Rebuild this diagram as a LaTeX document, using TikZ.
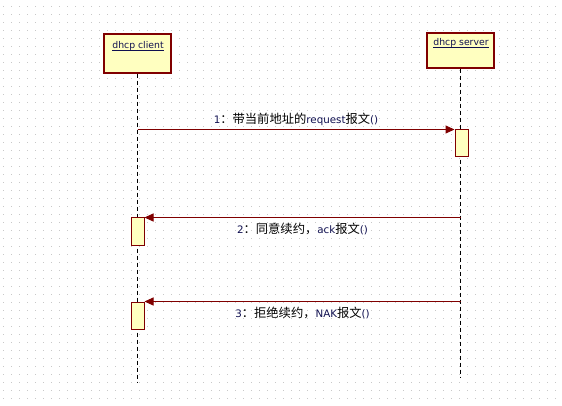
\documentclass[tikz,border=0pt]{standalone}
\usepackage{fontspec}
\setmainfont{DejaVu Sans}
\newfontfamily\cjk{Noto Sans CJK SC}
\usetikzlibrary{arrows.meta}
\definecolor{lifebox}{RGB}{255,255,192}
\definecolor{msgred}{RGB}{128,0,0}
\definecolor{navytext}{RGB}{16,16,80}
\definecolor{dotgray}{RGB}{200,200,200}
\newcommand\zh[1]{{\fontsize{12.3}{14}\cjk\color{black}#1}}
\tikzset{
  objbox/.style={draw=msgred,fill=lifebox,line width=1.2pt,minimum width=67pt,inner sep=0pt},
  actbox/.style={draw=msgred,fill=lifebox,line width=1pt,minimum width=13pt,minimum height=27pt,inner sep=0pt},
  lifeline/.style={draw=black,line width=1pt,dash pattern=on 4pt off 3pt},
  msg/.style={draw=msgred,line width=1pt,-{Triangle[length=9pt,width=8pt]}},
  msgtext/.style={font=\fontsize{10.3}{12}\selectfont,text=navytext,inner sep=3pt},
  objtext/.style={font=\fontsize{9.3}{11}\selectfont,text=navytext,inner sep=0pt,anchor=base},
  nameline/.style={draw=navytext,line width=0.8pt}
}
\begin{document}
\begin{tikzpicture}[x=1pt,y=-1pt]
\useasboundingbox (0,0) rectangle (562,406);
\fill[white] (0,0) rectangle (562,406);
% dot grid
\foreach \x in {3,11,...,555}
  \foreach \y in {6,14,...,398}
    \fill[dotgray] (\x,\y) rectangle +(1,1);
% objects
\node[objbox,minimum height=39pt] (client) at (137.5,53.5) {};
\node[objbox,minimum height=35pt] (server) at (460.5,50.5) {};
\node[objtext] (clientname) at (138,48.5) {dhcp client};
\node[objtext] (servername) at (461,45.5) {dhcp server};
\draw[nameline] ([yshift=-2pt]clientname.base west) -- ([yshift=-2pt]clientname.base east);
\draw[nameline] ([yshift=-2pt]servername.base west) -- ([yshift=-2pt]servername.base east);
\coordinate (clientend) at (client.south |- 0,382);
\coordinate (serverend) at (server.south |- 0,378);
\draw[lifeline] (client.south) -- (clientend);
\draw[lifeline] (server.south) -- (serverend);
% activations
\node[actbox] (srvact) at (461.5,143.5) {};
\node[actbox] (ackact) at (137.5,231.5) {};
\node[actbox] (nakact) at (137.5,315.5) {};
% messages
\draw[msg] (client.south |- srvact.north) -- (srvact.north west)
  node[msgtext,midway,above] {1\zh{：带当前地址的}request\zh{报文}()};
\draw[msg] (server.south |- ackact.north) -- (ackact.north east)
  node[msgtext,midway,below,yshift=-2pt] {2\zh{：同意续约，}ack\zh{报文}()};
\draw[msg] (server.south |- nakact.north) -- (nakact.north east)
  node[msgtext,midway,below,yshift=-2pt] {3\zh{：拒绝续约，}NAK\zh{报文}()};
\end{tikzpicture}
\end{document}
